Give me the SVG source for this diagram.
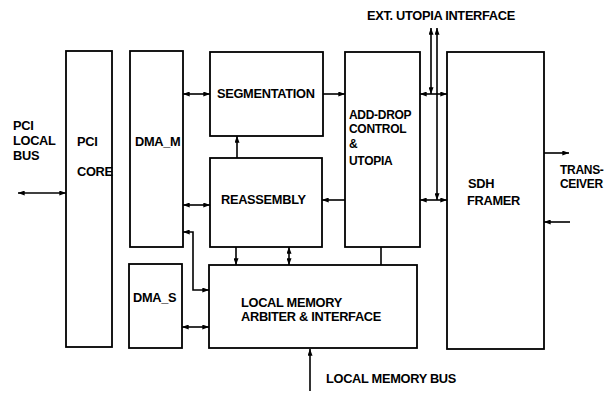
<svg xmlns="http://www.w3.org/2000/svg" width="616" height="393" viewBox="0 0 616 393">
<style>
.box{fill:#fff;stroke:#000;stroke-width:1.8}
.t{font-family:"Liberation Sans",Arial,sans-serif;font-weight:bold;font-size:12.8px;fill:#000;letter-spacing:-0.3px}
.s{font-size:12px}
.c{fill:none;stroke:#000;stroke-width:1.6}
</style>
<defs>
<marker id="ah" viewBox="0 0 8 6" refX="8" refY="3" markerWidth="7" markerHeight="5" markerUnits="userSpaceOnUse" orient="auto-start-reverse">
<path d="M0,0 L8,3 L0,6 Z" fill="#000"/>
</marker>
</defs>
<g id="pci-core"><rect class="box" x="66" y="51" width="46" height="296"/><text class="t" x="77" y="146">PCI</text><text class="t" x="77" y="176">CORE</text></g>
<g id="dma-m"><rect class="box" x="130" y="51" width="53" height="196"/><text class="t" x="135" y="146">DMA_M</text></g>
<g id="dma-s"><rect class="box" x="129" y="264" width="53" height="84"/><text class="t" x="133" y="302">DMA_S</text></g>
<g id="segmentation"><rect class="box" x="210" y="52" width="113" height="84"/><text class="t" x="217" y="98">SEGMENTATION</text></g>
<g id="reassembly"><rect class="box" x="210" y="158" width="112" height="89"/><text class="t" x="221" y="204">REASSEMBLY</text></g>
<g id="local-memory"><rect class="box" x="209" y="265" width="208" height="83"/><text class="t" x="241" y="307">LOCAL MEMORY</text><text class="t" x="241" y="321">ARBITER &amp; INTERFACE</text></g>
<g id="add-drop"><rect class="box" x="345" y="52" width="75" height="195"/><text class="t s" x="349" y="119">ADD-DROP</text><text class="t s" x="349" y="133">CONTROL</text><text class="t s" x="349" y="148">&amp;</text><text class="t s" x="349" y="165">UTOPIA</text></g>
<g id="sdh-framer"><rect class="box" x="447" y="52" width="97" height="297"/><text class="t" x="468" y="188">SDH</text><text class="t" x="467" y="205">FRAMER</text></g>
<g id="labels">
<text class="t" x="13" y="130">PCI</text><text class="t" x="13" y="145">LOCAL</text><text class="t" x="13" y="160">BUS</text>
<text class="t" x="367" y="20">EXT. UTOPIA INTERFACE</text>
<text class="t s" x="560" y="174">TRANS-</text><text class="t s" x="560" y="188">CEIVER</text>
<text class="t" x="326" y="383">LOCAL MEMORY BUS</text>
</g>
<g id="connectors">
<line class="c" x1="18" y1="193" x2="66" y2="193" marker-start="url(#ah)" marker-end="url(#ah)"/>
<line class="c" x1="183" y1="94" x2="210" y2="94" marker-start="url(#ah)" marker-end="url(#ah)"/>
<line class="c" x1="323" y1="94" x2="345" y2="94" marker-end="url(#ah)"/>
<line class="c" x1="237" y1="158" x2="237" y2="136" marker-end="url(#ah)"/>
<line class="c" x1="183" y1="205" x2="210" y2="205" marker-start="url(#ah)" marker-end="url(#ah)"/>
<line class="c" x1="345" y1="200" x2="322" y2="200" marker-end="url(#ah)"/>
<line class="c" x1="236" y1="247" x2="236" y2="265" marker-end="url(#ah)"/>
<line class="c" x1="289" y1="247" x2="289" y2="265" marker-start="url(#ah)" marker-end="url(#ah)"/>
<line class="c" x1="381" y1="247" x2="381" y2="265"/>
<polyline class="c" points="183,232 193,232 193,290 209,290" marker-start="url(#ah)" marker-end="url(#ah)"/>
<line class="c" x1="182" y1="327" x2="209" y2="327" marker-start="url(#ah)" marker-end="url(#ah)"/>
<line class="c" x1="420" y1="94" x2="447" y2="94" marker-start="url(#ah)" marker-end="url(#ah)"/>
<line class="c" x1="420" y1="200" x2="447" y2="200" marker-start="url(#ah)" marker-end="url(#ah)"/>
<line class="c" x1="431" y1="28" x2="431" y2="94" marker-start="url(#ah)" marker-end="url(#ah)"/>
<line class="c" x1="437" y1="28" x2="437" y2="200" marker-start="url(#ah)" marker-end="url(#ah)"/>
<line class="c" x1="544" y1="153" x2="569" y2="153" marker-end="url(#ah)"/>
<line class="c" x1="570" y1="222" x2="544" y2="222" marker-end="url(#ah)"/>
<line class="c" x1="310" y1="391" x2="310" y2="349" marker-end="url(#ah)"/>
</g>
</svg>
